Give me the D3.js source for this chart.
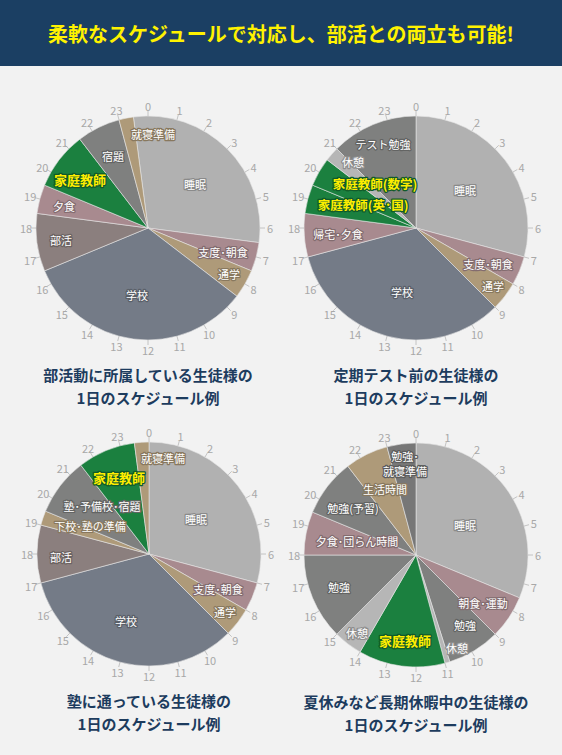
<!DOCTYPE html>
<html><head><meta charset="utf-8">
<script src="https://cdn.jsdelivr.net/npm/d3@7"></script>
<style>
html,body{margin:0;padding:0;background:#f2f2f2;}
text{font-family:"Noto Sans CJK JP","Noto Sans",sans-serif;}
</style></head>
<body><svg id="c" width="562" height="755"></svg>
<script>
// ---------- DATA ----------
const title = "柔軟なスケジュールで対応し、部活との両立も可能!";
const hourTicks = d3.range(0, 24);

// Chart 1: 部活動に所属している生徒様
const c1Names  = ["睡眠","支度･朝食","通学","学校","部活","夕食","家庭教師","宿題","就寝準備"];
const c1Starts = [23.5, 6.5, 7.5, 8.5, 16.5, 18.5, 19.5, 21.5, 23];
const c1Kinds  = ["sleep","pink","tan","school","club","pink","tutor","dark","tan"];
const c1Caption = ["部活動に所属している生徒様の","1日のスケジュール例"];

// Chart 2: 定期テスト前の生徒様
const c2Names  = ["睡眠","支度･朝食","通学","学校","帰宅･夕食","家庭教師(英･国)","家庭教師(数学)","休憩","テスト勉強"];
const c2Starts = [0, 7, 8, 9, 17, 18.5, 19.5, 20.5, 21];
const c2Kinds  = ["sleep","pink","tan","school","pink","tutor","tutor","light","dark"];
const c2Caption = ["定期テスト前の生徒様の","1日のスケジュール例"];

// Chart 3: 塾に通っている生徒様
const c3Names  = ["睡眠","支度･朝食","通学","学校","部活","下校･塾の準備","塾･予備校･宿題","家庭教師","就寝準備"];
const c3Starts = [0, 7, 8, 9, 17, 19, 19.5, 21.5, 23.5];
const c3Kinds  = ["sleep","pink","tan","school","club","tan","dark","tutor","tan"];
const c3Caption = ["塾に通っている生徒様の","1日のスケジュール例"];

// Chart 4: 夏休みなど長期休暇中の生徒様
const c4Names  = ["睡眠","朝食･運動","勉強","休憩","家庭教師","休憩","勉強","夕食･団らん時間","勉強(予習)","生活時間","勉強･\n就寝準備"];
const c4Starts = [0, 7.5, 9, 10.83, 11, 14, 15, 18, 19.5, 21.5, 23];
const c4Kinds  = ["sleep","pink","dark","light","tutor","light","dark","pink","dark","tan","dark2"];
const c4Caption = ["夏休みなど長期休暇中の生徒様の","1日のスケジュール例"];

// ---------- LAYOUT / STYLE ----------
const palette = {
  sleep:"#b1b1b1", pink:"#a88a8f", tan:"#ae9a79", school:"#747b87",
  club:"#8b7f7e", tutor:"#1b803f", dark:"#7f807f", dark2:"#777777", light:"#b6b6b6"
};
const R = 112;
const charts = [
  {names:c1Names, starts:c1Starts, kinds:c1Kinds, caption:c1Caption, cx:148, cy:228,
   lab:[[47,-44],[75,24],[81,46],[-11,67],[-87,12],[-84,-22],[-68,-49],[-35,-72],[5,-94]]},
  {names:c2Names, starts:c2Starts, kinds:c2Kinds, caption:c2Caption, cx:416, cy:228,
   lab:[[49,-38],[72,36],[77,58],[-14,64],[-78,6],[-53,-24],[-41,-45],[-63,-66],[-33,-84]]},
  {names:c3Names, starts:c3Starts, kinds:c3Kinds, caption:c3Caption, cx:149, cy:554,
   lab:[[47,-35],[69,35],[76,58],[-23,67],[-88,3],[-59,-28],[-47,-48],[-30,-77],[14,-96]]},
  {names:c4Names, starts:c4Starts, kinds:c4Kinds, caption:c4Caption, cx:416, cy:555,
   lab:[[49,-30],[67,48],[49,70],[41,93],[-11,85],[-59,78],[-77,32],[-59,-14],[-63,-47],[-31,-66],[-11,-92]]}
];

const svg = d3.select("#c");
svg.append("rect").attr("width",562).attr("height",755).attr("fill","#f2f2f2");
svg.append("rect").attr("width",562).attr("height",66).attr("fill","#1b3f63");
svg.append("text").attr("x",281).attr("y",33).attr("text-anchor","middle")
  .attr("dominant-baseline","central").attr("fill","#fff200")
  .attr("font-size",20).attr("font-weight","bold").text(title);

const ang = d3.scaleLinear().domain([0,24]).range([0, 2*Math.PI]);
const arc = d3.arc().innerRadius(0).outerRadius(R);

charts.forEach(ch => {
  const g = svg.append("g").attr("transform",`translate(${ch.cx},${ch.cy})`);
  const segs = ch.names.map((n,i) => {
    const s = ch.starts[i];
    let e = ch.starts[(i+1) % ch.starts.length];
    let a0 = ang(s), a1 = ang(e);
    if (a1 <= a0) a1 += 2*Math.PI;
    if (s > 12 && e <= s) { a0 -= 2*Math.PI; a1 -= 2*Math.PI; }
    return {name:n, kind:ch.kinds[i], startAngle:a0, endAngle:a1, lab:ch.lab[i]};
  });
  g.selectAll("path.s").data(segs).join("path").attr("class","s")
    .attr("d", arc).attr("fill", d => palette[d.kind])
    .attr("stroke","#e6e6e6").attr("stroke-width",0.6);

  // hour ticks
  g.selectAll("line.t").data(hourTicks).join("line").attr("class","t")
    .attr("x1", h => R*Math.sin(ang(h))).attr("y1", h => -R*Math.cos(ang(h)))
    .attr("x2", h => (R+5)*Math.sin(ang(h))).attr("y2", h => -(R+5)*Math.cos(ang(h)))
    .attr("stroke","#b8b8b8").attr("stroke-width",0.8);
  g.selectAll("text.t").data(hourTicks).join("text").attr("class","t")
    .attr("x", h => (R+10)*Math.sin(ang(h))).attr("y", h => -(R+10)*Math.cos(ang(h)))
    .attr("text-anchor","middle").attr("dominant-baseline","central")
    .attr("font-size",11).attr("fill","#a8a8a8").text(h => h);

  // labels
  segs.forEach(d => {
    const tutor = d.kind === "tutor";
    const lines = d.name.split("\n");
    const fs = tutor ? (d.name.length > 5 ? 12.5 : 13) : 11;
    const t = g.append("text").attr("text-anchor","middle")
      .attr("x", d.lab[0]).attr("y", d.lab[1] - (lines.length-1)*7.5)
      .attr("dominant-baseline","central")
      .attr("font-size", fs).attr("font-weight", tutor ? "bold" : "normal")
      .attr("fill", tutor ? "#ffee00" : "#ffffff")
      .attr("stroke", tutor ? "#0f5a2a" : d3.color(palette[d.kind]).darker(0.7))
      .attr("stroke-width", 2.5).attr("stroke-linejoin","round")
      .style("paint-order","stroke");
    lines.forEach((l,k) => t.append("tspan").attr("x", d.lab[0]).attr("dy", k ? 15 : 0).text(l));
  });

  // caption
  ch.caption.forEach((c,k) => {
    svg.append("text").attr("x", ch.cx).attr("y", ch.cy + 146 + k*23)
      .attr("text-anchor","middle").attr("dominant-baseline","central")
      .attr("font-size",15).attr("font-weight","bold").attr("fill","#1d3c5e").text(c);
  });
});
</script></body></html>
